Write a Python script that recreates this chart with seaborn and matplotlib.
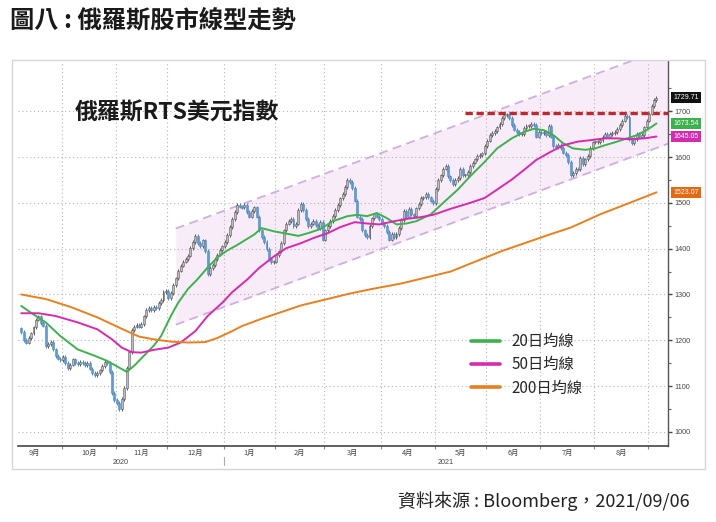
import numpy as np
import pandas as pd
import matplotlib
matplotlib.use("Agg")
import matplotlib.pyplot as plt
import matplotlib.transforms as mtransforms
from matplotlib.patches import Rectangle
import seaborn as sns

# ---------------- data ----------------
first_day = "2020-09-08"
last_day = "2021-09-06"

# daily closes of RTS USD index
closes_part1 = [1218, 1200, 1195, 1205, 1215, 1228, 1245, 1252, 1238, 1232,
                1188, 1192, 1196, 1180, 1165, 1160, 1157, 1163, 1150, 1140,
                1147, 1158, 1150, 1148, 1152, 1150, 1146, 1150, 1138, 1128,
                1124, 1128, 1134, 1144, 1152, 1150, 1130, 1085, 1070, 1063,
                1050, 1072, 1095, 1140, 1175, 1222, 1230, 1234, 1230, 1235,
                1252, 1266, 1270, 1266, 1272, 1270, 1282, 1288, 1305, 1308,
                1293, 1303, 1320, 1335, 1352, 1363, 1372, 1377, 1385, 1402,
                1415, 1428, 1412, 1405, 1418, 1395, 1345, 1358, 1365, 1378,
                1387, 1397, 1405, 1415, 1430, 1448, 1465, 1480]
closes_part2 = [1495, 1492, 1490, 1495, 1480, 1470, 1482, 1490, 1470, 1440,
                1425, 1415, 1400, 1378, 1370, 1372, 1386, 1394, 1412, 1440,
                1455, 1460, 1465, 1450, 1455, 1485, 1498, 1485, 1465, 1450,
                1455, 1460, 1452, 1445, 1458, 1420, 1440, 1450, 1460, 1472,
                1485, 1495, 1510, 1520, 1535, 1550, 1545, 1532, 1505, 1470,
                1465, 1440, 1430, 1425, 1450, 1466, 1475, 1470, 1465, 1455,
                1450, 1437, 1420, 1432, 1425, 1432, 1445, 1462, 1482, 1470,
                1487, 1475, 1472, 1488, 1497, 1511, 1512, 1520, 1512]
closes_part3 = [1505, 1500, 1530, 1550, 1560, 1575, 1580, 1558, 1550, 1542,
                1550, 1555, 1575, 1560, 1560, 1568, 1580, 1588, 1595, 1602,
                1605, 1608, 1625, 1636, 1648, 1652, 1657, 1665, 1672, 1685,
                1692, 1693, 1685, 1670, 1660, 1655, 1650, 1650, 1663, 1668,
                1668, 1672, 1670, 1645, 1655, 1652, 1655, 1648, 1668, 1645,
                1625, 1622, 1627, 1620, 1610, 1605, 1590, 1560, 1565, 1575,
                1573, 1598, 1585, 1595, 1603, 1620, 1632, 1632, 1633, 1638,
                1645, 1650, 1645, 1650, 1652, 1655, 1662, 1670, 1680, 1690,
                1688, 1640, 1630, 1640, 1650, 1645, 1648, 1665, 1680, 1695,
                1712, 1725, 1729.71]
first_open = 1226

# moving averages (trading-day number, value)
ma20_day = [0, 4, 10, 16, 23, 30, 35, 40, 43, 46, 50, 54, 57, 61, 64, 68, 72, 76, 80,
            84, 88, 95, 98, 103, 108, 113, 117, 122, 127, 133, 137, 141, 145, 149,
            153, 157, 161, 167, 172, 178, 183, 189, 194, 200, 205, 209, 213, 217,
            221, 225, 230, 234, 238, 243, 247, 251, 255, 259]
ma20_val = [1275, 1260, 1239, 1209, 1180, 1166, 1155, 1140, 1131, 1144, 1166, 1188,
            1209, 1253, 1282, 1312, 1334, 1359, 1381, 1396, 1408, 1431, 1445, 1438,
            1433, 1428, 1434, 1443, 1460, 1471, 1474, 1471, 1478, 1467, 1453, 1455,
            1460, 1475, 1500, 1529, 1558, 1590, 1619, 1641, 1655, 1662, 1659, 1648,
            1630, 1619, 1616, 1619, 1626, 1634, 1641, 1648, 1659, 1673.54]
ma50_day = [0, 7, 14, 23, 31, 37, 41, 45, 49, 54, 60, 65, 71, 76, 82, 86, 92, 97, 103,
            108, 114, 119, 125, 130, 136, 141, 146, 152, 157, 163, 168, 175, 183,
            189, 194, 200, 205, 210, 216, 221, 227, 232, 238, 243, 248, 254, 259]
ma50_val = [1259, 1259, 1253, 1239, 1224, 1202, 1184, 1174, 1173, 1179, 1184, 1195,
            1220, 1253, 1282, 1305, 1332, 1358, 1383, 1401, 1412, 1423, 1434, 1447,
            1458, 1455, 1453, 1460, 1465, 1469, 1474, 1487, 1500, 1511, 1529, 1551,
            1572, 1594, 1612, 1626, 1634, 1637, 1641, 1641, 1639, 1641, 1645.05]
ma200_day = [0, 10, 20, 31, 41, 48, 54, 61, 68, 75, 80, 86, 90, 98, 114, 134, 143,
             155, 175, 196, 216, 224, 236, 248, 259]
ma200_val = [1300, 1290, 1273, 1250, 1225, 1208, 1202, 1197, 1195, 1196, 1205, 1220,
             1231, 1247, 1276, 1302, 1312, 1324, 1350, 1395, 1432, 1446, 1475, 1500,
             1523.07]

# trend channel and resistance
channel_start_day = 63
channel_upper_start = 1444
channel_lower_start = 1234
channel_slope = 1.97
resistance_level = 1697
resistance_start_day = 181

month_labels = ["9月", "10月", "11月", "12月", "1月", "2月", "3月", "4月",
                "5月", "6月", "7月", "8月"]
year_labels = ["2020", "2021"]
y_ticks = [1000, 1100, 1200, 1300, 1400, 1500, 1600, 1700]

legend_labels = ["20日均線", "50日均線", "200日均線"]
title_text = "圖八 : 俄羅斯股市線型走勢"
inner_title = "俄羅斯RTS美元指數"
source_text = "資料來源 : Bloomberg，2021/09/06"

# ---------------- style ----------------
sns.set_theme(style="white")
plt.rcParams["font.family"] = ["Noto Sans CJK TC", "DejaVu Sans"]

C_UP, C_UP_EDGE = "#bdbdbd", "#5a5a5a"
C_DN, C_DN_EDGE = "#5b9bd8", "#4a88c8"
C20, C50, C200 = "#3cb24c", "#d62ab0", "#e8801f"

W, H = 716, 522
fig = plt.figure(figsize=(W / 100, H / 100), dpi=100)
ax = fig.add_axes([18.3 / W, 1 - 446 / H, (668 - 18.3) / W, (446 - 61) / H])

closes = np.array(closes_part1 + closes_part2 + closes_part3, dtype=float)
dates = pd.bdate_range(first_day, last_day)
n = min(len(dates), len(closes))
closes = closes[:n]
days = np.arange(n)
opens = np.r_[first_open, closes[:-1]]

XMIN, XMAX = -1.2, 263.7
ax.set_xlim(XMIN, XMAX)
ax.set_ylim(969, 1810)

# channel shading and dashed channel lines
cx = np.array([channel_start_day, XMAX])
upper = channel_upper_start + channel_slope * (cx - channel_start_day)
lower = channel_lower_start + channel_slope * (cx - channel_start_day)
ax.fill_between(cx, lower, upper, color="#f8ecf8", zorder=0.6, linewidth=0)
ax.plot(cx, upper, color="#cfaee0", lw=1.3, ls=(0, (5, 3)), zorder=1.6)
ax.plot(cx, lower, color="#cfaee0", lw=1.3, ls=(0, (5, 3)), zorder=1.6)

# gridlines
full = pd.bdate_range("2020-09-01", "2021-10-01")
pos0 = full.get_loc(dates[0])
starts = [i - pos0 for i in range(len(full))
          if i == 0 or full[i].month != full[i - 1].month]
bounds = [s - 0.5 for s in starts]
mids = [(starts[k] + starts[k + 1]) / 2 - 0.5 for k in range(len(month_labels))]
for b in bounds[1:]:
    if XMIN < b < XMAX:
        ax.axvline(b, color="#b5b5b5", lw=0.8, ls=(0, (1, 2.5)), zorder=1.2)
for yv in y_ticks:
    ax.axhline(yv, color="#b5b5b5", lw=0.8, ls=(0, (1, 2.5)), zorder=1.2)

# resistance line
ax.axhline(resistance_level, xmin=(resistance_start_day - XMIN) / (XMAX - XMIN),
           xmax=1, color="#c1272d", lw=2.4, ls=(0, (2.2, 1.1)), zorder=2.5)

# candles
up = closes >= opens
body = closes - opens
body = np.where(np.abs(body) < 2.5, np.where(up, 2.5, -2.5), body)
WICK = 4
highs = np.maximum(opens, closes) + WICK
lows = np.minimum(opens, closes) - WICK
ax.vlines(days, lows, highs, colors=np.where(up, C_UP_EDGE, C_DN_EDGE), lw=0.7, zorder=2.8)
ax.bar(days, body, bottom=opens, width=0.8,
       color=np.where(up, C_UP, C_DN), edgecolor=np.where(up, C_UP_EDGE, C_DN_EDGE),
       linewidth=0.4, zorder=3)

# moving averages
sns.lineplot(x=ma20_day, y=ma20_val, ax=ax, color=C20, lw=1.4, label=legend_labels[0],
             estimator=None, zorder=4)
sns.lineplot(x=ma50_day, y=ma50_val, ax=ax, color=C50, lw=1.4, label=legend_labels[1],
             estimator=None, zorder=4)
sns.lineplot(x=ma200_day, y=ma200_val, ax=ax, color=C200, lw=1.4, label=legend_labels[2],
             estimator=None, zorder=4)

leg = ax.legend(loc="upper left", bbox_to_anchor=(471 / W, 1 - 333 / H),
                bbox_transform=fig.transFigure, frameon=False, fontsize=11,
                handlelength=1.9, handletextpad=0.75, labelspacing=0.42,
                borderpad=0, borderaxespad=0)
for line in leg.get_lines():
    line.set_linewidth(2.6)

# axes styling
for s in ["left", "top"]:
    ax.spines[s].set_visible(False)
ax.spines["right"].set_color("#555555")
ax.spines["right"].set_linewidth(1.0)
ax.spines["bottom"].set_color("#444444")
ax.spines["bottom"].set_linewidth(1.2)

ax.yaxis.tick_right()
ax.set_yticks(y_ticks)
ax.set_yticklabels([str(v) for v in y_ticks], fontsize=5.2, color="#444444",
                   family="Liberation Sans")
ax.set_yticks(np.arange(1050, 1800, 100), minor=True)
ax.tick_params(axis="y", which="major", length=3, width=1, color="#444444", pad=1.5,
               direction="out", right=True, left=False)
ax.tick_params(axis="y", which="minor", length=2, width=0.8, color="#666666",
               right=True, left=False)

ax.set_xticks([b for b in bounds if XMIN < b < XMAX])
ax.set_xticklabels([])
ax.set_xticks(mids, month_labels, minor=True)
ax.tick_params(axis="x", which="major", length=2, width=0.8, color="#888888",
               direction="out", bottom=True)
ax.tick_params(axis="x", which="minor", length=0, pad=1.8, labelsize=5.3,
               labelcolor="#444444")
ax.set_xlabel("")
ax.set_ylabel("")

# year labels and divider
trans = mtransforms.blended_transform_factory(ax.transData, ax.transAxes)
jan = bounds[4]
ax.text((XMIN + jan) / 2, -0.042, year_labels[0], transform=trans, ha="center",
        va="center", fontsize=5.2, color="#444444", family="Liberation Sans")
ax.text((jan + XMAX) / 2, -0.042, year_labels[1], transform=trans, ha="center",
        va="center", fontsize=5.2, color="#444444", family="Liberation Sans")
ax.plot([jan, jan], [-0.029, -0.05], transform=trans, color="#aaaaaa", lw=0.8,
        clip_on=False)

# last value tags on right axis
tags = [(closes[-1], "#111111"), (ma20_val[-1], C20), (ma50_val[-1], C50),
        (ma200_val[-1], "#e46a12")]
tag_trans = mtransforms.blended_transform_factory(ax.transAxes, ax.transData)
for val, col in tags:
    ax.text(1.008, val, f"{val:.2f}", transform=tag_trans, ha="left", va="center",
            fontsize=5.0, color="white", family="Liberation Sans", zorder=6,
            bbox=dict(boxstyle="square,pad=0.3", fc=col, ec="none"))

# texts
fig.text(10 / W, 1 - 20 / H, title_text, fontsize=17.5, fontweight="bold",
         ha="left", va="center", color="#1a1a1a")
fig.text(75 / W, 1 - 113 / H, inner_title, fontsize=16.5, fontweight="bold",
         ha="left", va="center", color="#1a1a1a")
fig.text(690 / W, 1 - 501 / H, source_text, fontsize=13, ha="right", va="center",
         color="#222222")

# outer frame
fig.patches.append(Rectangle((11.7 / W, 1 - 469 / H), (704.5 - 11.7) / W,
                             (469 - 59.5) / H, transform=fig.transFigure,
                             fill=False, ec="#d6d6d6", lw=1.0))

fig.savefig("out.png", dpi=100)
